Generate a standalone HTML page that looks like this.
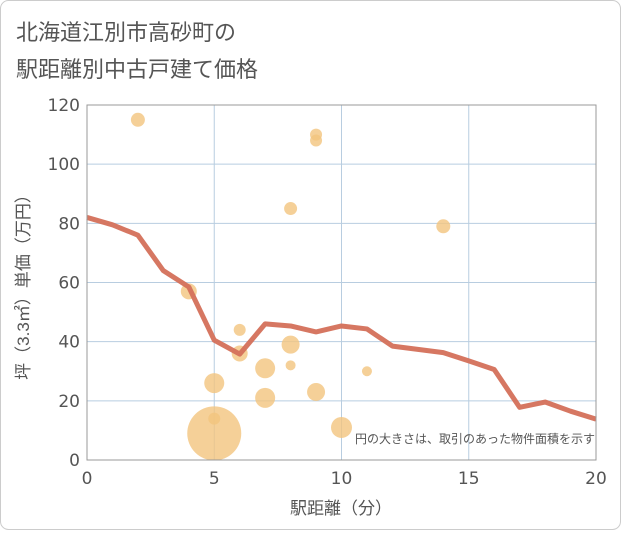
<!DOCTYPE html>
<html><head><meta charset="utf-8"><style>
body{margin:0;background:#fff;font-family:"Liberation Sans","Noto Sans CJK JP",sans-serif}
</style></head><body>
<svg width="621" height="530" viewBox="0 0 621 530">
<rect x="0.5" y="0.5" width="620" height="529" rx="8" fill="#fff" stroke="#ccc"/>
<text x="16" y="40" font-size="22" fill="#555">北海道江別市高砂町の</text>
<text x="16" y="77" font-size="22" fill="#555">駅距離別中古戸建て価格</text>
<g id="grid"></g>
<g id="bubbles"></g>
<polyline id="trend" fill="none" stroke="#d4705a" stroke-width="5" stroke-linejoin="round" opacity="0.95"/>
<rect x="87" y="105" width="509" height="355" fill="none" stroke="#999"/>
<g id="ticks"></g>
<text x="595" y="443" font-size="12" fill="#555" text-anchor="end">円の大きさは、取引のあった物件面積を示す</text>
<text x="341" y="514" font-size="17" fill="#555" text-anchor="middle">駅距離（分）</text>
<text transform="translate(29,283) rotate(-90)" font-size="17" fill="#555" text-anchor="middle">坪（3.3㎡）単価（万円）</text>
</svg>
<script>
const xTicks=[0,5,10,15,20];
const yTicks=[0,20,40,60,80,100,120];
const lineX=[0,1,2,3,4,5,6,7,8,9,10,11,12,13,14,15,16,17,18,19,20];
const lineY=[82,79.5,76,64,58.5,40.5,35.8,46,45.3,43.3,45.3,44.3,38.5,37.4,36.3,33.5,30.6,17.8,19.6,16.5,13.8];
const bubX=[2,9,9,8,14,4,6,6,7,7,5,8,8,9,11,10,5,5];
const bubY=[115,110,108,85,79,57,44,36,31,21,26,39,32,23,30,11,14,9];
const bubR=[7,6,6,6.5,7,8,6,8,10,10,10,9,5,9,5,10.5,6,27];
const X=v=>87+v*(509/20), Y=v=>460-v*(355/120);
const NS="http://www.w3.org/2000/svg";
const g=document.getElementById('grid'),t=document.getElementById('ticks'),b=document.getElementById('bubbles');
xTicks.forEach(v=>{
 const l=document.createElementNS(NS,'line');
 
 
 l.setAttribute('x1',X(v));l.setAttribute('x2',X(v));l.setAttribute('y1',105);l.setAttribute('y2',460);
 l.setAttribute('stroke','#b8cde0');g.appendChild(l);
 const tx=document.createElementNS(NS,'text');
 
 
 tx.setAttribute('x',X(v));tx.setAttribute('y',484);tx.setAttribute('font-size','17');tx.setAttribute('font-family','DejaVu Sans, sans-serif');tx.setAttribute('fill','#555');tx.setAttribute('text-anchor','middle');
 tx.textContent=v;t.appendChild(tx);
});
yTicks.forEach(v=>{
 const l=document.createElementNS(NS,'line');
 
 
 l.setAttribute('x1',87);l.setAttribute('x2',596);l.setAttribute('y1',Y(v));l.setAttribute('y2',Y(v));
 l.setAttribute('stroke','#b8cde0');g.appendChild(l);
 const tx=document.createElementNS(NS,'text');
 
 
 tx.setAttribute('x',80);tx.setAttribute('y',Y(v)+6);tx.setAttribute('font-size','17');tx.setAttribute('font-family','DejaVu Sans, sans-serif');tx.setAttribute('fill','#555');tx.setAttribute('text-anchor','end');
 tx.textContent=v;t.appendChild(tx);
});
bubX.forEach((v,i)=>{
 const c=document.createElementNS(NS,'circle');
 
 
 c.setAttribute('cx',X(v));c.setAttribute('cy',Y(bubY[i]));c.setAttribute('r',bubR[i]);
 c.setAttribute('fill','#f2c47e');c.setAttribute('opacity','0.8');b.appendChild(c);
});
document.getElementById('trend').setAttribute('points',lineX.map((v,i)=>X(v)+','+Y(lineY[i])).join(' '));
</script>
</body></html>
